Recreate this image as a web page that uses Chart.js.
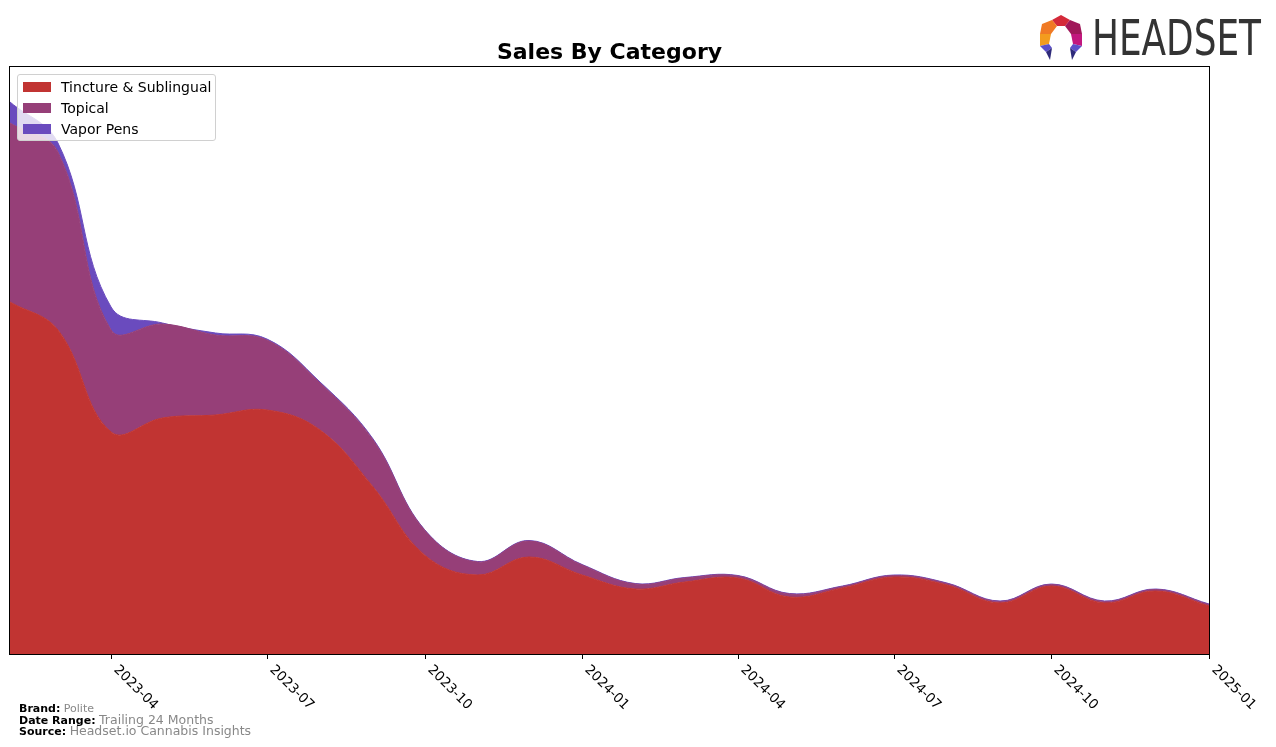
<!DOCTYPE html>
<html>
<head>
<meta charset="utf-8">
<script src="https://cdn.jsdelivr.net/npm/chart.js@4/dist/chart.umd.min.js"></script>
<style>
  body { margin: 0; background: #fff; font-family: "DejaVu Sans", sans-serif; }
  #wrap { position: relative; width: 1276px; height: 747px; overflow: hidden; }
  #chart { position: absolute; left: 0; top: 0; }
  #title { position: absolute; left: 10px; width: 1199px; top: 39px; text-align: center; font-weight: bold; font-size: 22px; color: #000; }
  #legend { position: absolute; left: 17px; top: 74px; width: 197px; height: 65px; border: 1px solid #d0d0d0; border-radius: 3px; background: rgba(255,255,255,0.8); }
  .item { position: absolute; left: 5px; height: 16px; font-size: 14px; color: #000; line-height: 16px; }
  .item span.patch { position: absolute; left: 0; top: 3px; width: 28px; height: 10px; }
  .item span.lbl { position: absolute; left: 38px; white-space: nowrap; }
  #footer { position: absolute; left: 19px; top: 704px; font-size: 11px; line-height: 10.5px; color: #888; }
  #footer b { color: #000; }
  #logo { position: absolute; left: 1036px; top: 14px; }
  #logo span { position: absolute; left: 56px; top: -4px; display: inline-block; white-space: nowrap; transform-origin: 0 0;
    font-family: "Liberation Sans Narrow", "DejaVu Sans Condensed", sans-serif; font-size: 49px; color: #333; }
</style>
</head>
<body>
<div id="wrap">
  <canvas id="chart" width="1276" height="747"></canvas>
  <div id="title">Sales By Category</div>
  <div id="legend"></div>
  <div id="footer">
    <div><b>Brand:</b> Polite</div>
    <div><b>Date Range:</b> <span style="font-size:12.5px">Trailing 24 Months</span></div>
    <div><b>Source:</b> <span style="font-size:12.5px">Headset.io Cannabis Insights</span></div>
  </div>
  <div id="logo">
    <svg width="50" height="48" viewBox="0 0 50 48">
      <polygon points="16,6 25,1 34,6 29,12 21,12" fill="#d42a3a"/>
      <polygon points="34,6 29,12 35,20 46,20 44,10" fill="#a0185a"/>
      <polygon points="16,6 21,12 15,20 4,20 6,10" fill="#f07a25"/>
      <polygon points="35,20 46,20 46,32 37,30" fill="#c2177e"/>
      <polygon points="15,20 4,20 4,32 13,30" fill="#f39c1e"/>
      <polygon points="37,30 46,32 40,38 34,34" fill="#5b4fc9"/>
      <polygon points="13,30 4,32 10,38 16,34" fill="#5b4fc9"/>
      <polygon points="34,34 40,38 36,46" fill="#2e2a7a"/>
      <polygon points="16,34 10,38 14,46" fill="#2e2a7a"/>
    </svg>
    <span id="logotext">HEADSET</span>
  </div>
</div>
<script>
const months = ["2023-02","2023-03","2023-04","2023-05","2023-06","2023-07","2023-08","2023-09",
  "2023-10","2023-11","2023-12","2024-01","2024-02","2024-03","2024-04","2024-05",
  "2024-06","2024-07","2024-08","2024-09","2024-10","2024-11","2024-12","2025-01"];

const tinctureSales = [352, 324, 222, 236, 239, 244, 224, 167, 99, 79, 97, 79,
  65, 72, 76, 57, 66, 77, 69, 51, 68, 51, 63, 48];
const topicalSales = [179, 178, 102, 94, 80, 70, 47, 47, 25, 13, 16, 10,
  5, 4, 2, 3, 1.5, 1.5, 1.5, 1.5, 1.5, 1.5, 1.5, 1.5];
const vaporSales = [21, 9, 23, 1, 2, 1, 1, 1, 0.5, 0.5, 0.5, 0.5,
  0.5, 0.5, 0.5, 0.5, 0.5, 0.5, 0.5, 0.5, 0.5, 0.5, 0.5, 0.5];

const tickMonths = ["2023-04","2023-07","2023-10","2024-01","2024-04","2024-07","2024-10","2025-01"];

const seriesNames = ["Tincture & Sublingual", "Topical", "Vapor Pens"];
const seriesColors = ["#c13432", "#963f78", "#6a4bbe"];

// days since first month, so the x axis spacing follows the calendar
const base = Date.UTC(2023, 1, 1);
const toDays = (m) => {
  const [y, mo] = m.split("-").map(Number);
  return (Date.UTC(y, mo - 1, 1) - base) / 86400000;
};

const toPoints = (vals) => vals.map((v, i) => ({ x: toDays(months[i]), y: v }));

const legend = document.getElementById("legend");
seriesNames.forEach((name, i) => {
  const d = document.createElement("div");
  d.className = "item";
  d.style.top = (4 + i * 21) + "px";
  d.innerHTML = '<span class="patch" style="background:' + seriesColors[i] + '"></span><span class="lbl"></span>';
  d.querySelector(".lbl").textContent = name;
  legend.appendChild(d);
});

// squeeze logo word to the width it has in the picture
const logoText = document.getElementById("logotext");
logoText.style.transform = "scaleX(" + (169 / logoText.getBoundingClientRect().width) + ")";

const frameAndTicks = {
  id: "frameAndTicks",
  afterDraw(chart) {
    const ctx = chart.ctx;
    const a = chart.chartArea;
    const xs = chart.scales.x;
    ctx.save();
    ctx.strokeStyle = "#000";
    ctx.lineWidth = 1;
    ctx.strokeRect(a.left - 0.5, a.top - 0.5, a.right - a.left + 1, a.bottom - a.top + 1);
    ctx.font = "13.5px 'DejaVu Sans'";
    ctx.fillStyle = "#000";
    tickMonths.forEach((m) => {
      const px = Math.round(xs.getPixelForValue(toDays(m))) + 0.5;
      ctx.beginPath();
      ctx.moveTo(px, a.bottom);
      ctx.lineTo(px, a.bottom + 5);
      ctx.stroke();
      ctx.save();
      ctx.translate(px + 9, a.bottom + 9);
      ctx.rotate(Math.PI / 4);
      ctx.textAlign = "left";
      ctx.textBaseline = "top";
      ctx.fillText(m, 0, 0);
      ctx.restore();
    });
    ctx.restore();
  }
};

new Chart(document.getElementById("chart"), {
  type: "line",
  data: {
    datasets: [tinctureSales, topicalSales, vaporSales].map((vals, i) => ({
      label: seriesNames[i],
      data: toPoints(vals),
      backgroundColor: seriesColors[i],
      borderColor: seriesColors[i],
      borderWidth: 1,
      pointRadius: 0,
      tension: 0.4,
      fill: i === 0 ? "origin" : "-1",
    })),
  },
  options: {
    responsive: false,
    animation: false,
    layout: { padding: { left: 10, top: 67, right: 67, bottom: 93 } },
    scales: {
      x: { type: "linear", display: false, min: 0, max: toDays("2025-01") },
      y: { display: false, stacked: true, min: 0, max: 587 },
    },
    plugins: {
      legend: { display: false },
      tooltip: { enabled: false },
    },
  },
  plugins: [frameAndTicks],
});
</script>
</body>
</html>
